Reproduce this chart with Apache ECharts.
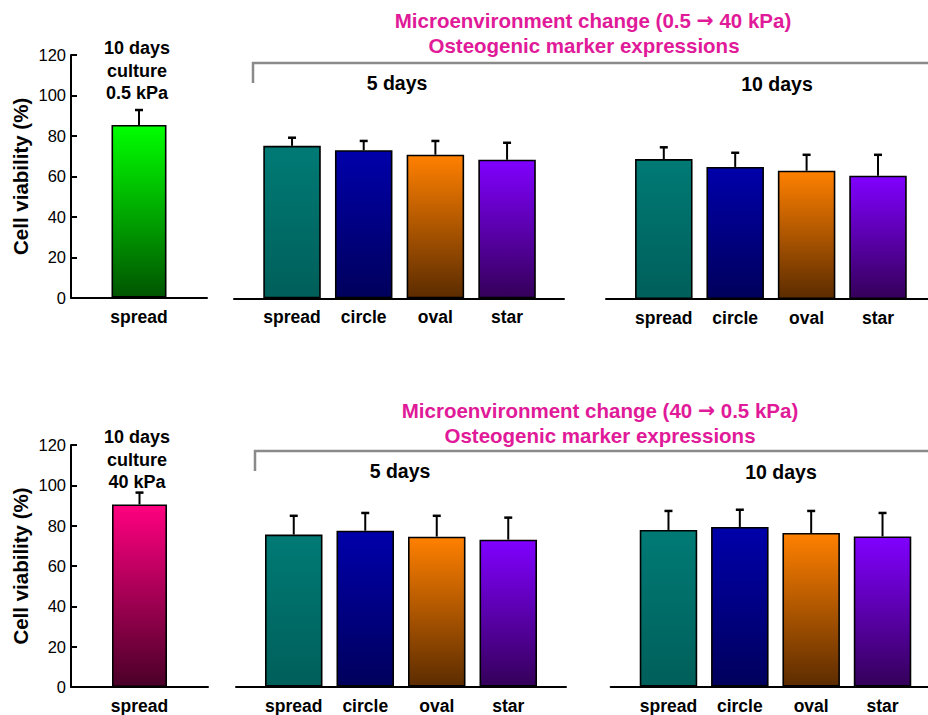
<!DOCTYPE html>
<html>
<head>
<meta charset="utf-8">
<script src="https://cdn.jsdelivr.net/npm/echarts@6/dist/echarts.min.js"></script>
<style>
html,body{margin:0;padding:0;background:#fff;}
#c{width:928px;height:715px;}
</style>
</head>
<body>
<div id="c"></div>
<script>
// ---------- data ----------
const shapes = ['spread', 'circle', 'oval', 'star'];
const leftCats = ['spread'];
const yTicks = [0, 20, 40, 60, 80, 100, 120];

const top05Val = [85.4];
const top05Err = [7.4];
const topDay5Val = [75.4, 73.2, 71.0, 68.5];
const topDay5Err = [4.0, 4.6, 6.8, 8.4];
const topDay10Val = [69.2, 65.3, 63.4, 61.0];
const topDay10Err = [5.8, 7.0, 7.9, 10.3];

const bot40Val = [90.5];
const bot40Err = [5.9];
const botDay5Val = [75.2, 77.1, 74.2, 72.7];
const botDay5Err = [9.3, 8.8, 10.3, 10.9];
const botDay10Val = [77.5, 79.0, 76.0, 74.3];
const botDay10Err = [9.4, 8.5, 10.9, 11.6];

const topTitle1 = ['Microenvironment change (0.5 ', '\u2192', ' 40 kPa)'];
const botTitle1 = ['Microenvironment change (40 ', '\u2192', ' 0.5 kPa)'];
const subTitle = 'Osteogenic marker expressions';
const topNote = ['10 days', 'culture', '0.5 kPa'];
const botNote = ['10 days', 'culture', '40 kPa'];
const dayLabels = ['5 days', '10 days'];
const yName = 'Cell viability (%)';

// ---------- styles ----------
const FONT = '"Liberation Sans", Arial, sans-serif';
const shapeGrad = [['#007a75', '#005f5a'], ['#0000aa', '#00005c'], ['#ff8000', '#5c2c00'], ['#8000ff', '#35005a']];
const greenGrad = ['#00ff00', '#005500'];
const pinkGrad = ['#ff0080', '#4a0028'];
const MAG = '#e01a98';

function grad(c) {
  return new echarts.graphic.LinearGradient(0, 0, 0, 1, [{offset: 0, color: c[0]}, {offset: 1, color: c[1]}]);
}

const H = 242.7;
const panels = [
  {left: 71, top: 55, width: 136, cats: leftCats, vals: top05Val, errs: top05Err, grads: [greenGrad], bw: 55, yShow: true},
  {left: 256.2, top: 55.6, width: 286.7, cats: shapes, vals: topDay5Val, errs: topDay5Err, grads: shapeGrad, bw: 57.5, base: [234, 330]},
  {left: 628.1, top: 56.3, width: 285.6, cats: shapes, vals: topDay10Val, errs: topDay10Err, grads: shapeGrad, bw: 57.5, base: [606, 322]},
  {left: 71, top: 445, width: 137, cats: leftCats, vals: bot40Val, errs: bot40Err, grads: [pinkGrad], bw: 55, yShow: true},
  {left: 258, top: 444, width: 286, cats: shapes, vals: botDay5Val, errs: botDay5Err, grads: shapeGrad, bw: 57.5, base: [236, 330]},
  {left: 632.8, top: 444, width: 285.4, cats: shapes, vals: botDay10Val, errs: botDay10Err, grads: shapeGrad, bw: 57.5, base: [610.7, 317.3]}
];

const grid = [], xAxis = [], yAxis = [], series = [];
panels.forEach((p, i) => {
  grid.push({left: p.left, top: p.top, width: p.width, height: H, containLabel: false});
  xAxis.push({
    type: 'category', gridIndex: i, data: p.cats,
    axisLine: {show: !p.base, lineStyle: {color: '#000', width: 2}},
    axisTick: {show: false},
    axisLabel: {interval: 0, hideOverlap: false, color: '#000', fontFamily: FONT, fontWeight: 'bold', fontSize: 17.5, margin: 10}
  });
  yAxis.push({
    type: 'value', gridIndex: i, min: yTicks[0], max: yTicks[yTicks.length - 1], interval: 20,
    show: !!p.yShow,
    name: p.yShow ? yName : '', nameLocation: 'middle', nameGap: 40,
    nameTextStyle: {color: '#000', fontFamily: FONT, fontWeight: 'bold', fontSize: 20.5},
    axisLine: {show: true, lineStyle: {color: '#000', width: 2}},
    axisTick: {show: true, inside: true, length: 6, lineStyle: {color: '#000', width: 2}},
    axisLabel: {color: '#000', fontFamily: FONT, fontSize: 16.5, margin: 5},
    splitLine: {show: false}
  });
  series.push({
    type: 'bar', xAxisIndex: i, yAxisIndex: i, barWidth: p.bw, z: 2,
    data: p.vals.map((v, k) => ({value: v, itemStyle: {color: grad(p.grads[k]), borderColor: '#000', borderWidth: 1.6}})),
    silent: true, animation: false
  });
  series.push({
    type: 'custom', xAxisIndex: i, yAxisIndex: i, z: 3, silent: true, animation: false,
    data: p.vals.map((v, k) => [k, v, p.errs[k]]),
    renderItem: function (params, api) {
      const x = api.value(0), y = api.value(1), e = api.value(2);
      const a = api.coord([x, y]);
      const b = api.coord([x, y + e]);
      return {type: 'group', children: [
        {type: 'line', shape: {x1: a[0], y1: a[1], x2: b[0], y2: b[1]}, style: {stroke: '#000', lineWidth: 2}},
        {type: 'line', shape: {x1: b[0] - 4, y1: b[1], x2: b[0] + 4, y2: b[1]}, style: {stroke: '#000', lineWidth: 2.5}}
      ]};
    }
  });
});
// baseline axes for the shape panels
panels.forEach((p, i) => {
  if (!p.base) return;
  const gi = grid.length;
  grid.push({left: p.base[0], top: p.top, width: p.base[1], height: H});
  xAxis.push({type: 'value', gridIndex: gi, min: 0, max: 1, axisLine: {show: true, lineStyle: {color: '#000', width: 2}},
    axisTick: {show: false}, axisLabel: {show: false}, splitLine: {show: false}});
  yAxis.push({type: 'value', gridIndex: gi, min: 0, max: 120, show: false, splitLine: {show: false}});
});

function txt(x, y, s, size, color) {
  return {type: 'text', x: x, y: y, silent: true,
    style: {text: s, font: 'bold ' + size + 'px ' + FONT, fill: color || '#000', align: 'center', verticalAlign: 'middle'}};
}
function arrowTitle(x, y, parts, size, color) {
  return {type: 'text', x: x, y: y, silent: true,
    style: {
      text: parts[0] + '{a|' + parts[1] + '}' + parts[2],
      font: 'bold ' + size + 'px ' + FONT, fill: color, align: 'center', verticalAlign: 'middle',
      rich: {a: {fontFamily: '"DejaVu Sans", sans-serif', fontWeight: 'bold', fontSize: size, fill: color, color: color}}
    }};
}
function bracket(x, y, y2) {
  return {type: 'polyline', silent: true, shape: {points: [[x, y2], [x, y], [928, y]]},
    style: {stroke: '#8a8a8a', lineWidth: 2.5, fill: null}};
}

const graphic = [
  arrowTitle(593, 20, topTitle1, 20.5, MAG),
  txt(584, 45, subTitle, 20.5, MAG),
  bracket(253, 63, 83),
  txt(397, 83, dayLabels[0], 19.5),
  txt(777, 84, dayLabels[1], 19.5),
  txt(137, 48, topNote[0], 18), txt(137, 71, topNote[1], 18), txt(137, 93, topNote[2], 18),
  arrowTitle(600, 410, botTitle1, 20.5, MAG),
  txt(600, 435, subTitle, 20.5, MAG),
  bracket(255, 451, 471),
  txt(400, 471, dayLabels[0], 19.5),
  txt(781, 472, dayLabels[1], 19.5),
  txt(137, 437, botNote[0], 18), txt(137, 460, botNote[1], 18), txt(137, 482, botNote[2], 18)
];

const chart = echarts.init(document.getElementById('c'), null, {renderer: 'svg'});
chart.setOption({
  backgroundColor: '#fff',
  animation: false,
  grid: grid, xAxis: xAxis, yAxis: yAxis, series: series, graphic: graphic
});
</script>
</body>
</html>
